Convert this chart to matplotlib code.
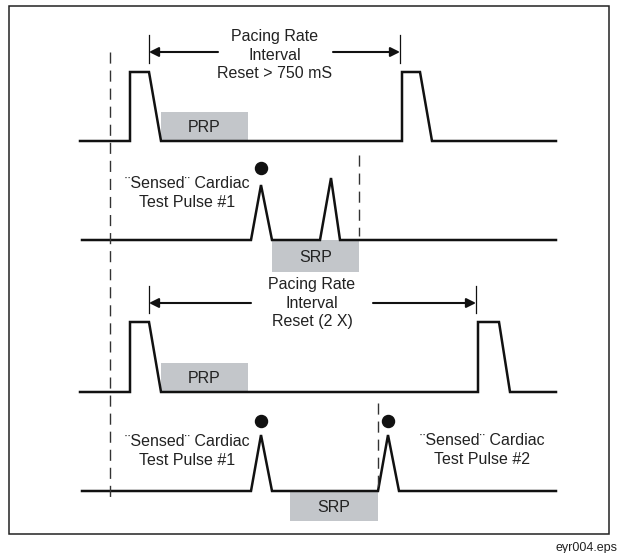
import matplotlib.pyplot as plt
from matplotlib.patches import Rectangle

plt.rcParams['font.family'] = ['Liberation Sans', 'DejaVu Sans']

# Waveform vertices (diagram units, y grows downward)
trace1_x = [80, 130, 130, 149, 161, 402, 402, 420, 432, 556]
trace1_y = [141, 141, 72, 72, 141, 141, 72, 72, 141, 141]

trace2_x = [82, 251, 261, 272, 320, 331, 340, 556]
trace2_y = [240, 240, 185, 240, 240, 178, 240, 240]

trace3_x = [80, 130, 130, 149, 161, 478, 478, 499, 510, 556]
trace3_y = [392, 392, 322, 322, 392, 392, 322, 322, 392, 392]

trace4_x = [82, 251, 261, 272, 378, 388, 399, 556]
trace4_y = [491, 491, 435, 491, 491, 435, 491, 491]

# Refractory period boxes: (x0, x1, y_top, y_bottom, label)
periods = [
    (161, 248, 112, 141, 'PRP'),
    (272, 359, 240, 272, 'SRP'),
    (161, 248, 363, 392, 'PRP'),
    (290, 378, 491, 521, 'SRP'),
]

# Sensed pulse markers
dots_x = [261, 261, 388]
dots_y = [168, 421, 421]

# Dashed markers: (x, y0, y1)
dashes = [(110, 52, 497), (359, 155, 236), (378, 403, 491)]

# Interval arrows: (x_left, x_right, y, tick_y0, tick_y1, gap_left, gap_right)
intervals = [
    (149, 400, 52, 35, 63, 218, 333),
    (149, 476, 303, 286, 313, 251, 373),
]

labels = [
    (275, 55, 'Pacing Rate\nInterval\nReset > 750 mS'),
    (312, 303, 'Pacing Rate\nInterval\nReset (2 X)'),
    (187, 193, '¨Sensed¨ Cardiac\nTest Pulse #1'),
    (187, 451, '¨Sensed¨ Cardiac\nTest Pulse #1'),
    (482, 450, '¨Sensed¨ Cardiac\nTest Pulse #2'),
]

fig = plt.figure(figsize=(6.19, 5.53), dpi=100)
ax = fig.add_axes([0, 0, 1, 1])
ax.set_xlim(0, 619)
ax.set_ylim(553, 0)
ax.axis('off')

# frame
ax.add_patch(Rectangle((9, 6), 600, 528, fill=False, edgecolor='#222222', lw=1.1))

for x0, x1, y0, y1, name in periods:
    ax.add_patch(Rectangle((x0, y0), x1 - x0, y1 - y0, facecolor='#c3c6ca',
                           edgecolor='none', zorder=1))
    ax.text((x0 + x1) / 2, (y0 + y1) / 2 + 1, name, ha='center', va='center',
            fontsize=11.5, color='#222222', zorder=3)

for xs, ys in [(trace1_x, trace1_y), (trace2_x, trace2_y),
               (trace3_x, trace3_y), (trace4_x, trace4_y)]:
    ax.plot(xs, ys, color='#111111', lw=1.8, solid_joinstyle='miter', zorder=2)

ax.scatter(dots_x, dots_y, s=75, color='#111111', zorder=4)

for x, y0, y1 in dashes:
    ax.plot([x, x], [y0, y1], color='#333333', lw=1.0,
            dashes=(8, 5), zorder=2)

for xl, xr, y, t0, t1, gl, gr in intervals:
    ax.plot([xl, xl], [t0, t1], color='#111111', lw=0.9)
    ax.plot([xr, xr], [t0, t1], color='#111111', lw=0.9)
    for start, end in [(gl, xl), (gr, xr)]:
        ax.annotate('', xy=(end, y), xytext=(start, y),
                    arrowprops=dict(arrowstyle='-|>', color='#111111', lw=1.5,
                                    mutation_scale=14, shrinkA=0, shrinkB=0))

for x, y, s in labels:
    ax.text(x, y, s, ha='center', va='center', fontsize=11.5, color='#222222',
            linespacing=1.3)

ax.text(617, 548, 'eyr004.eps', ha='right', va='center', fontsize=9,
        color='#222222')

fig.savefig('out.png', dpi=100)
